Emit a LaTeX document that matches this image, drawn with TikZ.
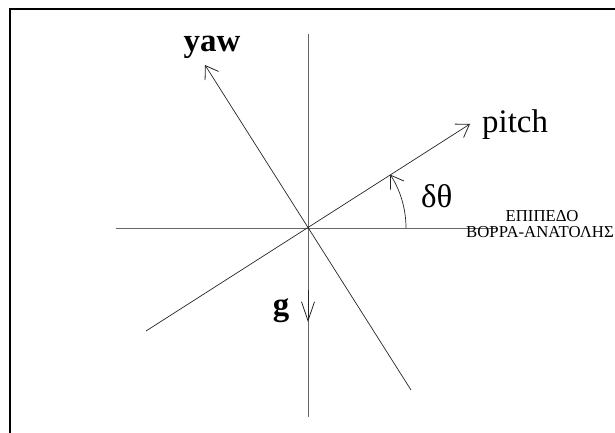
\documentclass[tikz,border=0pt]{standalone}
\usepackage{fontspec}
\setmainfont{Liberation Serif}
\usetikzlibrary{arrows.meta}
\begin{document}
\begin{tikzpicture}[x=1bp,y=-1bp,
  axis/.style={draw=black!60,line width=0.9bp},
  vec/.style={draw=black!85,line width=0.7bp},
  barb/.style={-{Straight Barb[length=12bp,width=16bp,line width=0.8bp]}},
  gbarb/.style={-{Straight Barb[length=19bp,width=13bp,line width=0.8bp]}},
  lab/.style={inner sep=0pt,font=\fontsize{33}{36}\selectfont},
  blab/.style={inner sep=0pt,font=\fontsize{33}{36}\selectfont\bfseries},
  small/.style={inner sep=0pt,font=\fontsize{16.8}{18}\selectfont}]
\useasboundingbox (0,0) rectangle (615,433);
% frame
\draw[line width=2bp] (10,433) -- (10,9) -- (615,9);
% coordinates
\coordinate (O) at (308,228);
\coordinate (vtop) at (308,34);
\coordinate (vbot) at (308,417);
\coordinate (hl) at (116,228);
\coordinate (hr) at (498,228);
\coordinate (pstart) at (146,331);
\coordinate (ptip) at (470,124);
\coordinate (ystart) at (411,390);
\coordinate (ytip) at (205,65);
\coordinate (gtop) at (308,290);
\coordinate (gtip) at (308,322);
\coordinate (arcstart) at (406,228);
% axes
\draw[axis] (vtop) -- (vbot);
\draw[axis] (hl) -- (hr);
% vectors
\draw[vec,barb] (pstart) -- (ptip);
\draw[vec,barb] (ystart) -- (ytip);
\draw[vec,gbarb] (gtop) -- (gtip);
% angle arc
\draw[vec,barb] (arcstart) arc[start angle=0,end angle=-33,radius=98];
% labels
\node[blab,anchor=base] (yaw) at (212,52) {yaw};
\node[lab,anchor=base west] (pitch) at (482,133) {pitch};
\node[lab,anchor=base west] (dt) at (421,208) {δθ};
\node[blab,anchor=base] (g) at (281,315) {g};
\node[small,anchor=base] (plane1) at (542,222) {ΕΠΙΠΕΔΟ};
\node[small,anchor=base west] (plane2) at (466,238) {ΒΟΡΡΑ-ΑΝΑΤΟΛΗΣ};
\end{tikzpicture}
\end{document}
